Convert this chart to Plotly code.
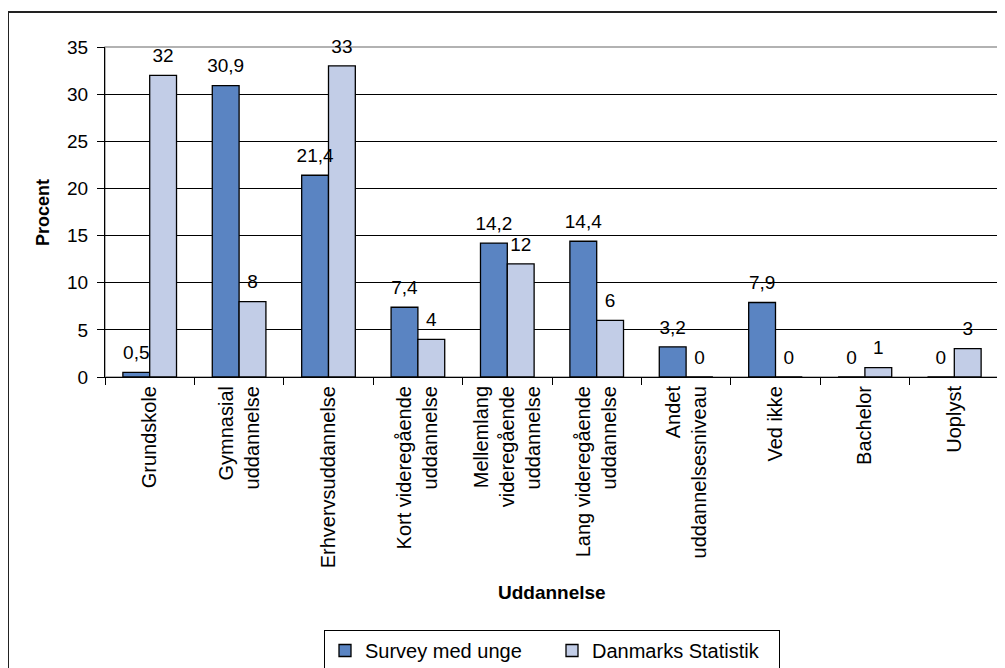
import plotly.graph_objects as go

categories = [
    "Grundskole",
    "Gymnasial<br>uddannelse",
    "Erhvervsuddannelse",
    "Kort videregående<br>uddannelse",
    "Mellemlang<br>videregående<br>uddannelse",
    "Lang videregående<br>uddannelse",
    "Andet<br>uddannelsesniveau",
    "Ved ikke",
    "Bachelor",
    "Uoplyst",
]
survey = [0.5, 30.9, 21.4, 7.4, 14.2, 14.4, 3.2, 7.9, 0, 0]
dst = [32, 8, 33, 4, 12, 6, 0, 0, 1, 3]
series_names = ["Survey med unge", "Danmarks Statistik"]
y_ticks = [0, 5, 10, 15, 20, 25, 30, 35]


def fmt(v):
    return ("%g" % v).replace(".", ",")


font_family = "Liberation Sans, Arial, sans-serif"
colors = ["#5A84C2", "#C2CDE7"]

fig = go.Figure()
for i, (name, vals) in enumerate(zip(series_names, [survey, dst])):
    fig.add_trace(go.Bar(
        x=categories, y=vals, name=name, offsetgroup=str(i),
        marker=dict(color=colors[i], line=dict(color="black", width=1.3)),
        hoverinfo="skip",
    ))
for i, vals in enumerate([survey, dst]):
    fig.add_trace(go.Scatter(
        x=categories, y=vals, offsetgroup=str(i), mode="markers+text",
        marker=dict(size=12, opacity=0), showlegend=False, cliponaxis=False,
        text=[fmt(v) for v in vals], textposition="top center",
        textfont=dict(family=font_family, size=19, color="black"),
        hoverinfo="skip",
    ))

L, R, T, B = 97, 14, 39, 299
W, H = 1005, 668
pw = W - L - R
ph = H - T - B

# outer chart frame
fig.add_shape(type="rect", xref="paper", yref="paper",
              x0=(0 - L) / pw, x1=(W + 20 - L) / pw,
              y0=-(H + 20 - (H - B)) / ph, y1=((H - B) - 4) / ph,
              line=dict(color="#222222", width=2), layer="below")
# plot area border (gray)
fig.add_shape(type="rect", xref="paper", yref="paper",
              x0=0, x1=1, y0=0, y1=1,
              line=dict(color="#999999", width=1.5), layer="below")

fig.add_annotation(text="<b>Procent</b>", xref="paper", yref="paper",
                   x=(35 - L) / pw, y=0.5, xanchor="center", yanchor="middle",
                   textangle=-90, showarrow=False,
                   font=dict(family=font_family, size=18, color="black"))
fig.add_annotation(text="<b>Uddannelse</b>", xref="paper", yref="paper",
                   x=0.5, y=((H - B) - 584) / ph, xanchor="center", yanchor="middle",
                   showarrow=False,
                   font=dict(family=font_family, size=19, color="black"))

fig.update_layout(
    width=W, height=H,
    margin=dict(l=L, r=R, t=T, b=B, autoexpand=False),
    paper_bgcolor="white", plot_bgcolor="white",
    barmode="group", bargap=0.4, bargroupgap=0,
    scattermode="group", scattergap=0.4,
    showlegend=True,
    legend=dict(orientation="h", x=0.5, xanchor="center",
                y=((H - B) - 622) / ph, yanchor="top",
                bordercolor="black", borderwidth=1,
                font=dict(family=font_family, size=20, color="black"),
                itemwidth=30, entrywidth=182, traceorder="normal"),
    font=dict(family=font_family, color="black"),
    xaxis=dict(
        tickangle=-90, showline=True, linecolor="black", linewidth=1,
        ticks="outside", ticklen=7, tickcolor="black", tickson="boundaries",
        tickfont=dict(family=font_family, size=20, color="black"),
    ),
    yaxis=dict(
        range=[0, 35], tickvals=y_ticks, showgrid=True, gridcolor="black", gridwidth=1,
        showline=True, linecolor="black", linewidth=1,
        ticks="outside", ticklen=7, tickcolor="black", ticklabelstandoff=5,
        tickfont=dict(family=font_family, size=19, color="black"),
        zeroline=False,
    ),
)

fig.write_html("out.html")
